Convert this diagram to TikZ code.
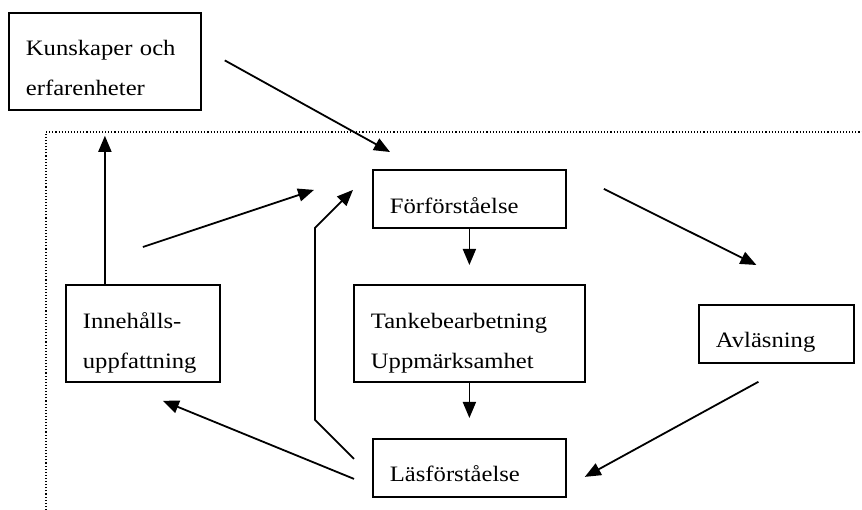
\documentclass[tikz,border=0pt]{standalone}
\usepackage{fontspec}
\setmainfont{Liberation Serif}[FakeStretch=1.12]
\usetikzlibrary{arrows.meta,positioning,calc}

\begin{document}
\begin{tikzpicture}[x=1pt, y=-1pt,
  block/.style={rectangle, draw, line width=1.8pt, anchor=north west, align=left, inner xsep=17pt, inner ysep=0pt, font=\fontsize{22}{40}\selectfont},
  oneline/.style={text height=44pt, text depth=14pt},
  twoline/.style={text height=43pt, text depth=54pt},
  line/.style={draw, -{Triangle[length=16pt, width=13pt]}, line width=1.8pt}]
  \useasboundingbox (0,0) rectangle (862,510);
  % ram
  \draw [dotted, line width=1.1pt] (46,510) -- (46,132) -- (862,132);
  \node [block, twoline, text width=158pt] (kun) at (8,12) {Kunskaper och\\erfarenheter};
  \node [block, oneline, text width=159pt] (forf) at (372,169) {Förförståelse};
  \node [block, twoline, text width=197pt, text depth=53pt, text height=44pt] (tanke) at (353,284) {Tankebearbetning\\Uppmärksamhet};
  \node [block, twoline, text width=120pt, text depth=53pt, text height=44pt] (inne) at (65,284) {Innehålls-\\uppfattning};
  \node [block, oneline, text width=121pt, text height=43pt, text depth=15pt] (avl) at (698,304) {Avläsning};
  \node [block, oneline, text width=159pt, text height=43pt, text depth=15pt] (las) at (372,438) {Läsförståelse};
  \path [line] ([shift={(23pt,1pt)}]kun.east) -- ([shift={(18pt,17pt)}]forf.north west);
  \path [line] ([shift={(37pt,10pt)}]forf.east) -- ([shift={(-20pt,39pt)}]avl.north);
  \path [line] (forf.south) -- ([yshift=19pt]tanke.north);
  \path [line] (tanke.south) -- ([yshift=20pt]las.north);
  \path [line] ([shift={(-18pt,-18pt)}]avl.south) -- ([shift={(18pt,-9pt)}]las.east);
  \path [line] ([shift={(-18pt,-11pt)}]las.west) -- ([shift={(20pt,-18pt)}]inne.south);
  \path [line] ([shift={(-18pt,9pt)}]las.west) -- ++(-39pt,39pt) -- ++(0pt,192pt) -- ([shift={(-19pt,9pt)}]forf.west);
  \path [line] (kun.south |- inne.north) -- ([yshift=-25pt]kun.south);
  \path [line] ([yshift=37pt]inne.north) -- ([shift={(-58pt,9pt)}]forf.west);
\end{tikzpicture}
\end{document}
